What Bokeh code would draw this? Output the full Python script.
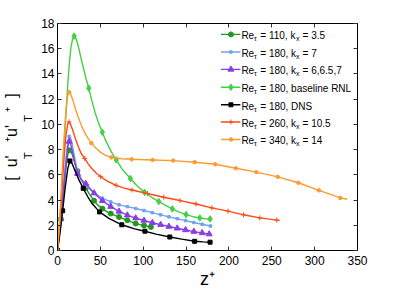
from bokeh.plotting import figure
from bokeh.models import Range1d, LinearAxis, Label, FixedTicker, Title
from bokeh.embed import file_html
from bokeh.resources import INLINE

# ---------------- data ----------------
# Re_tau=110, k_x=3.5 (dark green, circles)
g110_z = [0, 2, 3.9, 6, 8, 10, 12, 13.6, 15, 17, 20, 23.3, 28, 33, 38, 42.7, 47, 52.4, 57, 62.1, 67, 71.8, 76, 81.5, 86, 91.2, 96, 100.9, 105, 109]
g110_u = [0, 1.2, 2.5, 3.9, 5.3, 6.6, 7.6, 7.95, 7.95, 7.65, 7.0, 6.3, 5.6, 4.95, 4.4, 3.95, 3.6, 3.32, 3.1, 2.93, 2.79, 2.66, 2.54, 2.4, 2.27, 2.14, 2.05, 1.98, 1.92, 1.87]
g110_mz = [0, 3.9, 13.6, 23.3, 33, 42.7, 52.4, 62.1, 71.8, 81.5, 91.2, 100.9, 109]
g110_mu = [0, 2.5, 7.95, 6.3, 4.95, 3.95, 3.32, 2.93, 2.66, 2.4, 2.14, 1.98, 1.87]

# Re_tau=180, k_x=7 (light blue)
b180_z = [0, 2, 3.9, 6, 8, 10, 12, 13.6, 15, 17, 20, 23.3, 28, 33, 42.7, 52.4, 62.1, 71.8, 81.5, 91.2, 100.9, 110.6, 120.3, 130, 139.7, 149.4, 159.1, 168.8, 178.5]
b180_u = [0, 1.3, 2.6, 4.2, 5.9, 7.4, 8.6, 9.05, 9.0, 8.5, 7.4, 6.3, 5.6, 5.15, 4.55, 4.15, 3.85, 3.62, 3.48, 3.33, 3.17, 3.0, 2.83, 2.67, 2.52, 2.37, 2.22, 2.08, 1.94]
b180_mz = [0, 3.9, 13.6, 23.3, 33, 42.7, 52.4, 62.1, 71.8, 81.5, 91.2, 100.9, 110.6, 120.3, 130, 139.7, 149.4, 159.1, 168.8, 178.5]
b180_mu = [0, 2.6, 9.05, 6.3, 5.15, 4.55, 4.15, 3.85, 3.62, 3.48, 3.33, 3.17, 3.0, 2.83, 2.67, 2.52, 2.37, 2.22, 2.08, 1.94]

# Re_tau=180, k_x=6,6.5,7 (purple, triangles)
p180_z = [0, 2, 3.9, 6, 8, 10, 12, 13.6, 15, 17, 20, 23.3, 28, 33, 42.7, 52.4, 62.1, 71.8, 81.5, 91.2, 100.9, 110.6, 120.3, 130, 139.7, 149.4, 159.1, 168.8, 177]
p180_u = [0, 1.25, 2.5, 4.0, 5.6, 7.0, 8.2, 8.65, 8.55, 8.0, 7.0, 6.1, 5.6, 5.3, 4.55, 3.95, 3.48, 3.1, 2.8, 2.57, 2.38, 2.2, 2.05, 1.9, 1.76, 1.63, 1.5, 1.39, 1.3]
p180_mz = [0, 3.9, 13.6, 23.3, 33, 42.7, 52.4, 62.1, 71.8, 81.5, 91.2, 100.9, 110.6, 120.3, 130, 139.7, 149.4, 159.1, 168.8, 177]
p180_mu = [0, 2.5, 8.65, 6.1, 5.3, 4.55, 3.95, 3.48, 3.1, 2.8, 2.57, 2.38, 2.2, 2.05, 1.9, 1.76, 1.63, 1.5, 1.39, 1.3]

# Re_tau=180, baseline RNL (light green, diamonds)
rnl_z = [0, 1.5, 3, 5, 7, 9, 10.5, 12, 13.5, 15.5, 17.5, 19.4, 22, 25, 29, 33, 36.5, 40, 44, 48, 52.3, 56, 60, 64, 68.6, 76, 85, 93, 101.6, 110, 118.2, 126, 134, 142, 150, 158, 166, 172, 178]
rnl_u = [0, 1.2, 2.5, 5.0, 7.5, 9.8, 11.5, 13.2, 14.6, 16.0, 16.75, 17.0, 16.75, 16.0, 14.8, 13.7, 12.87, 11.9, 10.9, 10.1, 9.38, 8.75, 8.2, 7.68, 7.18, 6.4, 5.71, 5.12, 4.61, 4.22, 3.88, 3.57, 3.3, 3.05, 2.85, 2.68, 2.58, 2.52, 2.5]
rnl_mz = [0, 3, 19.4, 36.5, 52.3, 68.6, 85, 101.6, 118.2, 134, 150, 166, 178]
rnl_mu = [0, 2.5, 17.0, 12.87, 9.38, 7.18, 5.71, 4.61, 3.88, 3.3, 2.85, 2.58, 2.5]

# Re_tau=180, DNS (black, squares)
dns_z = [0, 3, 6, 9, 12, 14.5, 17, 20, 25, 30, 35, 40, 49, 60, 75, 90, 102, 115, 131, 145, 160, 170, 178]
dns_u = [0, 1.4, 3.15, 5.0, 6.5, 7.1, 6.9, 6.4, 5.6, 4.93, 4.3, 3.75, 3.06, 2.55, 2.04, 1.72, 1.53, 1.3, 1.07, 0.9, 0.73, 0.68, 0.66]
dns_mz = [0, 6, 14.5, 30, 49, 75, 102, 131, 160, 178]
dns_mu = [0, 3.15, 7.1, 4.93, 3.06, 2.04, 1.53, 1.07, 0.73, 0.66]

# Re_tau=260, k_x=10.5 (red-orange, plus)
r260_z = [0, 2, 4, 6, 8, 10, 12, 13.4, 15, 18, 21, 25, 28, 31.7, 36, 40, 45, 50.4, 58, 68.4, 77, 86.8, 105, 124, 143, 161.6, 180, 199, 217, 236, 255.8, 259]
r260_u = [0, 1.6, 3.6, 5.7, 7.7, 9.2, 10.05, 10.2, 10.05, 9.5, 8.85, 8.1, 7.65, 7.3, 6.85, 6.5, 6.15, 5.85, 5.5, 5.17, 4.97, 4.8, 4.52, 4.22, 3.96, 3.69, 3.38, 3.12, 2.83, 2.59, 2.41, 2.38]
r260_mz = [0, 13.4, 31.7, 50.4, 68.4, 86.8, 105, 124, 143, 161.6, 180, 199, 217, 236, 255.8]
r260_mu = [0, 10.2, 7.3, 5.85, 5.17, 4.8, 4.52, 4.22, 3.96, 3.69, 3.38, 3.12, 2.83, 2.59, 2.41]

# Re_tau=340, k_x=14 (orange)
o340_z = [0, 2, 4, 6, 8, 10, 12, 13.6, 15.5, 18, 21, 24, 28, 32, 36, 39.5, 45, 50, 56, 63, 75, 86.5, 111, 135, 160, 184, 208, 232, 257, 281, 305, 330, 338]
o340_u = [0, 1.8, 4.3, 7.0, 9.3, 11.2, 12.3, 12.55, 12.4, 11.9, 11.2, 10.6, 9.9, 9.3, 8.85, 8.52, 8.1, 7.8, 7.55, 7.38, 7.28, 7.23, 7.18, 7.13, 7.0, 6.84, 6.52, 6.21, 5.84, 5.37, 4.77, 4.17, 4.06]
o340_mz = [0, 13.6, 39.5, 63, 86.5, 111, 135, 160, 184, 208, 232, 257, 281, 305, 330]
o340_mu = [0, 12.55, 8.52, 7.38, 7.23, 7.18, 7.13, 7.0, 6.84, 6.52, 6.21, 5.84, 5.37, 4.77, 4.17]

x_ticks = [0, 50, 100, 150, 200, 250, 300, 350]
y_ticks = [0, 2, 4, 6, 8, 10, 12, 14, 16, 18]

legend_texts = [
    ("110", "3.5"),
    ("180", "7"),
    ("180", "6,6.5,7"),
    ("180", None, "baseline RNL"),
    ("180", None, "DNS"),
    ("260", "10.5"),
    ("340", "14"),
]

NB = "\u00a0"
x_title = "z\u207a"
y_title_sub = "T" + NB * 10 + "T"
y_title_main = "[" + NB * 2 + "u'" + NB * 3 + "\u207a" + "u'" + NB * 3 + "\u207a" + NB * 2 + "]"

# ---------------- layout ----------------
W, H = 393, 291
FL, FR, FT, FB = 56, 357, 23, 252   # frame edges (canvas px)
FONT = "Liberation Sans"

def X(px):  # canvas px -> data x
    return (px - FL) / (FR - FL) * 350.0

def Y(py):  # canvas px -> data y
    return (FB - py) / (FB - FT) * 18.0

p = figure(width=W, height=H, x_range=Range1d(0, 350), y_range=Range1d(0, 18),
           output_backend="svg", toolbar_location=None,
           min_border_left=FL, min_border_right=W - FR,
           min_border_top=FT, min_border_bottom=H - FB)
p.xgrid.visible = False
p.ygrid.visible = False
p.outline_line_color = "black"
p.outline_line_width = 1
p.background_fill_color = "white"
p.border_fill_color = "white"

def style_axis(ax, ticks, show_labels=True):
    ax.ticker = FixedTicker(ticks=ticks)
    ax.major_tick_in = 4
    ax.major_tick_out = 0
    ax.minor_tick_in = 0
    ax.minor_tick_out = 0
    ax.major_tick_line_color = "#333333"
    ax.axis_line_color = "black"
    ax.major_label_text_font = FONT
    ax.major_label_text_color = "black"
    if show_labels:
        ax.major_label_text_font_size = "12px"
    else:
        ax.major_label_overrides = {t: "" for t in ticks}
        ax.major_label_text_font_size = "1px"
        ax.major_label_standoff = 0

bottom_ax = p.xaxis[0]
left_ax = p.yaxis[0]
style_axis(bottom_ax, x_ticks)
style_axis(left_ax, y_ticks)
bottom_ax.major_label_standoff = 5
left_ax.major_label_standoff = 3

# axis titles
bottom_ax.axis_label = x_title
bottom_ax.axis_label_text_font = FONT
bottom_ax.axis_label_text_font_size = "18px"
bottom_ax.axis_label_text_font_style = "normal"
bottom_ax.axis_label_text_color = "black"
bottom_ax.axis_label_standoff = 1

left_ax.axis_label = y_title_sub
left_ax.axis_label_text_font = FONT
left_ax.axis_label_text_font_size = "11px"
left_ax.axis_label_text_font_style = "normal"
left_ax.axis_label_text_color = "black"
left_ax.axis_label_standoff = 4

top = LinearAxis()
right = LinearAxis()
style_axis(top, x_ticks, False)
style_axis(right, y_ticks, False)
p.add_layout(top, "above")
p.add_layout(right, "right")

p.add_layout(Title(text=y_title_main, align="center", text_font=FONT, text_font_size="16px",
                   text_font_style="normal", text_color="black", standoff=0), "left")

LW = 1.4
series = [
    # (line z, line u, marker z, marker u, color, marker, size)
    (g110_z, g110_u, g110_mz, g110_mu, "#1f9a1f", "circle", 5),
    (b180_z, b180_u, b180_mz, b180_mu, "#6fa3ef", "square", 2.5),
    (p180_z, p180_u, p180_mz, p180_mu, "#8a3ce6", "triangle", 6),
    (rnl_z, rnl_u, rnl_mz, rnl_mu, "#44d044", "diamond", 6.5),
    (dns_z, dns_u, dns_mz, dns_mu, "#000000", "square", 4),
    (r260_z, r260_u, r260_mz, r260_mu, "#ff4a12", "cross", 5),
    (o340_z, o340_u, o340_mz, o340_mu, "#ff9a2e", "circle", 3.5),
]

for lz, lu, mz, mu, col, mk, sz in series:
    p.line(lz, lu, line_color=col, line_width=LW)
    p.scatter(mz, mu, marker=mk, size=sz, fill_color=col, line_color=col, line_width=1)

# ---------------- legend (manual, with subscripts) ----------------
CW = {' ': 278, '=': 584, ',': 278, '.': 278, 'k': 500, 'R': 722, 'e': 556,
      'a': 556, 'b': 556, 's': 500, 'l': 222, 'i': 222, 'n': 556, 'D': 722,
      'N': 722, 'S': 667, 'L': 556, 'x': 500, 'τ': 440}
def tw(s, size):
    return sum(CW.get(c, 556) for c in s) / 1000.0 * size

LF, SF = 10, 7
row_y = [34, 51.7, 69.3, 87.3, 105, 122.3, 140]
for (entry, ry, (lz, lu, mz, mu, col, mk, sz)) in zip(legend_texts, row_y, series):
    p.line([X(220), X(239.5)], [Y(ry), Y(ry)], line_color=col, line_width=LW)
    p.scatter([X(230)], [Y(ry)], marker=mk, size=sz, fill_color=col, line_color=col)
    if entry[1] is not None:
        pieces = [("Re", False), ("τ", True), (" = %s, k" % entry[0], False), ("x", True), (" = %s" % entry[1], False)]
    else:
        pieces = [("Re", False), ("τ", True), (" = %s, %s" % (entry[0], entry[2]), False)]
    xcur = 240.5
    for txt, sub in pieces:
        fs = SF if sub else LF
        yb = ry + 4.5 if sub else ry + 1.5
        lead = len(txt) - len(txt.lstrip(" "))
        xcur += tw(" " * lead, fs)
        txt = txt.lstrip(" ")
        p.add_layout(Label(x=X(xcur), y=Y(yb), text=txt, text_font=FONT,
                           text_font_size="%dpx" % fs, text_color="black",
                           text_align="left", text_baseline="alphabetic"))
        xcur += tw(txt, fs) + (0.3 if sub else 0)

open("out.html", "w").write(file_html(p, INLINE))
